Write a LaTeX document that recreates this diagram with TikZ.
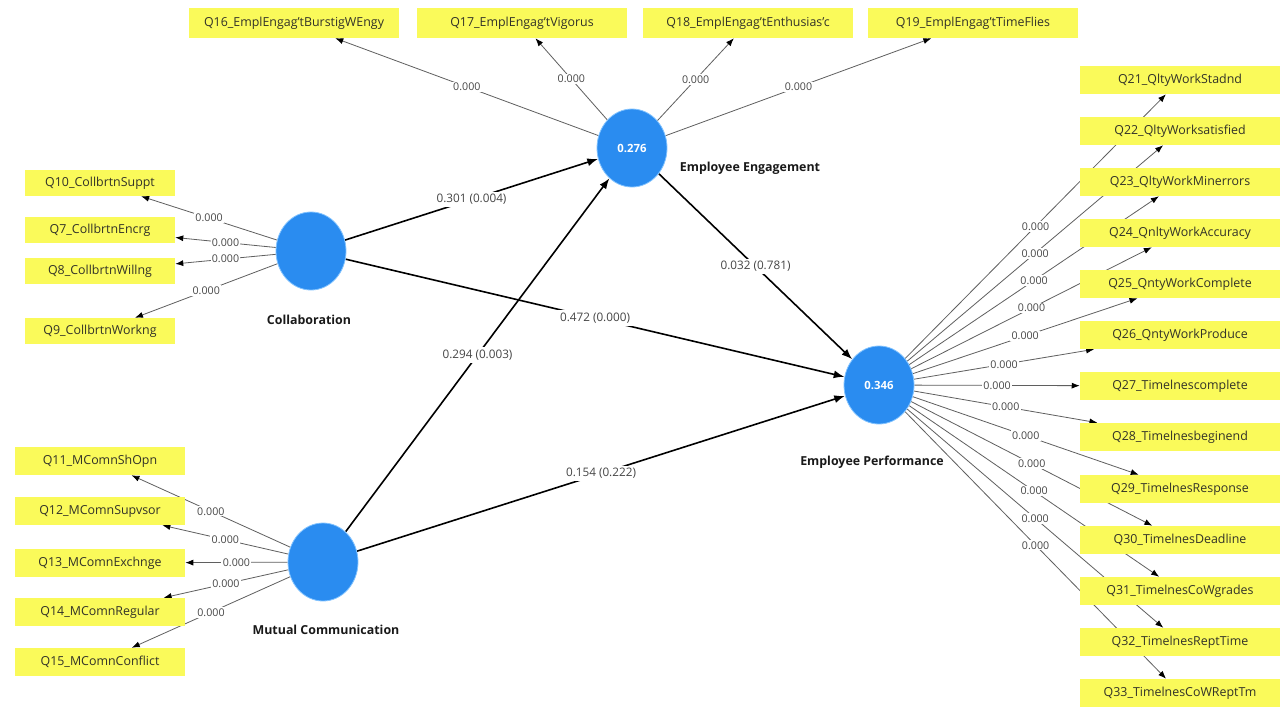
\documentclass[tikz,border=0pt]{standalone}
\usepackage{fontspec}
\setmainfont{Open Sans}
\usetikzlibrary{arrows.meta,shapes.geometric}
\pgfdeclarelayer{back}
\pgfdeclarelayer{lines}
\pgfsetlayers{back,lines,main}
\definecolor{boxyellow}{RGB}{250,250,90}
\definecolor{lvblue}{RGB}{42,140,240}
\definecolor{lvedge}{RGB}{130,195,255}
\definecolor{ldgray}{RGB}{95,95,95}
\definecolor{lblgray}{RGB}{70,70,70}
\definecolor{boxtext}{RGB}{50,50,40}
\begin{document}
\begin{tikzpicture}[x=0.75pt,y=-0.75pt,
  ind/.style={fill=boxyellow, draw=none, inner sep=0pt, minimum height=21pt, font=\fontsize{9.3}{10}\selectfont, text=boxtext},
  topind/.style={ind, minimum width=157.5pt, minimum height=22.5pt},
  colind/.style={ind, minimum width=112.5pt, minimum height=19.5pt},
  mcind/.style={ind, minimum width=127.5pt},
  epind/.style={ind, minimum width=150pt},
  lv/.style={ellipse, fill=lvblue, draw=lvedge, line width=0.6pt, minimum width=52.5pt, minimum height=58.5pt, inner sep=0pt, text=white, font=\bfseries\fontsize{8.5}{10}\selectfont},
  lvname/.style={font=\bfseries\fontsize{9.3}{11}\selectfont, text=black!90},
  load/.style={draw=ldgray, line width=0.6pt, -{Latex[length=6pt,width=4.5pt,color=black]}},
  spath/.style={draw=black, line width=1.2pt, -{Latex[length=8pt,width=6pt]}},
  lbl/.style={fill=white, inner sep=1pt, font=\fontsize{8}{9}\selectfont, text=lblgray},
  coef/.style={fill=white, inner sep=2pt, font=\fontsize{8.8}{10}\selectfont, text=lblgray}
]
\begin{pgfonlayer}{back}
\fill[white] (0,0) rectangle (1280,707);
\end{pgfonlayer}
\useasboundingbox (0,0) rectangle (1280,707);

% latent variables
\node[lv] (EE) at (632,148) {0.276};
\node[lv] (CO) at (311,251) {};
\node[lv] (MC) at (323,562) {};
\node[lv] (EP) at (879,385) {0.346};

\node[lvname] (EEn) at (750,168) {Employee Engagement};
\node[lvname] (COn) at (309,320) {Collaboration};
\node[lvname] (MCn) at (326,630) {Mutual Communication};
\node[lvname] (EPn) at (872,462) {Employee Performance};

% indicators: Employee Engagement
\node[topind] (Q16) at (294,23) {Q16\_EmplEngag'tBurstigWEngy};
\node[topind] (Q17) at (522,23) {Q17\_EmplEngag'tVigorus};
\node[topind] (Q18) at (748,23) {Q18\_EmplEngag'tEnthusias'c};
\node[topind] (Q19) at (973,23) {Q19\_EmplEngag'tTimeFlies};

% indicators: Collaboration
\node[colind] (Q10) at (100,183) {Q10\_CollbrtnSuppt};
\node[colind] (Q7) at (100,230) {Q7\_CollbrtnEncrg};
\node[colind] (Q8) at (100,271) {Q8\_CollbrtnWillng};
\node[colind] (Q9) at (100,331) {Q9\_CollbrtnWorkng};

% indicators: Mutual Communication
\node[mcind] (Q11) at (100,461) {Q11\_MComnShOpn};
\node[mcind] (Q12) at (100,511) {Q12\_MComnSupvsor};
\node[mcind] (Q13) at (100,563) {Q13\_MComnExchnge};
\node[mcind] (Q14) at (100,612) {Q14\_MComnRegular};
\node[mcind] (Q15) at (100,662) {Q15\_MComnConflict};

% indicators: Employee Performance
\node[epind] (Q21) at (1180,80) {Q21\_QltyWorkStadnd};
\node[epind] (Q22) at (1180,131) {Q22\_QltyWorksatisfied};
\node[epind] (Q23) at (1180,182) {Q23\_QltyWorkMinerrors};
\node[epind] (Q24) at (1180,233) {Q24\_QnltyWorkAccuracy};
\node[epind] (Q25) at (1180,284) {Q25\_QntyWorkComplete};
\node[epind] (Q26) at (1180,335) {Q26\_QntyWorkProduce};
\node[epind] (Q27) at (1180,386) {Q27\_Timelnescomplete};
\node[epind] (Q28) at (1180,437) {Q28\_Timelnesbeginend};
\node[epind] (Q29) at (1180,489) {Q29\_TimelnesResponse};
\node[epind] (Q30) at (1180,540) {Q30\_TimelnesDeadline};
\node[epind] (Q31) at (1180,591) {Q31\_TimelnesCoWgrades};
\node[epind] (Q32) at (1180,642) {Q32\_TimelnesReptTime};
\node[epind] (Q33) at (1180,693) {Q33\_TimelnesCoWReptTm};

\begin{pgfonlayer}{lines}
% loading lines
\foreach \q in {Q16,Q17,Q18,Q19} \draw[load] (EE) -- (\q);
\foreach \q in {Q10,Q7,Q8,Q9} \draw[load] (CO) -- (\q);
\foreach \q in {Q11,Q12,Q13,Q14,Q15} \draw[load] (MC) -- (\q);
\foreach \q in {Q21,Q22,Q23,Q24,Q25,Q26,Q27,Q28,Q29,Q30,Q31,Q32,Q33} \draw[load] (EP) -- (\q);

% structural paths
\draw[spath] (CO) -- (EE);
\draw[spath] (CO) -- (EP);
\draw[spath] (MC) -- (EE);
\draw[spath] (MC) -- (EP);
\draw[spath] (EE) -- (EP);
\end{pgfonlayer}

% loading labels
\foreach \q in {Q16,Q17,Q18,Q19} \path (EE) -- node[lbl]{0.000} (\q);
\foreach \q in {Q10,Q7,Q8,Q9} \path (CO) -- node[lbl]{0.000} (\q);
\foreach \q in {Q11,Q12,Q13,Q14,Q15} \path (MC) -- node[lbl]{0.000} (\q);
\foreach \q in {Q21,Q22,Q23,Q24,Q25,Q26,Q27,Q28,Q29,Q30,Q31,Q32,Q33} \path (EP) -- node[lbl]{0.000} (\q);

% path coefficient labels
\path (CO) -- node[coef]{0.301 (0.004)} (EE);
\path (CO) -- node[coef]{0.472 (0.000)} (EP);
\path (MC) -- node[coef]{0.294 (0.003)} (EE);
\path (MC) -- node[coef]{0.154 (0.222)} (EP);
\path (EE) -- node[coef]{0.032 (0.781)} (EP);
\end{tikzpicture}
\end{document}
